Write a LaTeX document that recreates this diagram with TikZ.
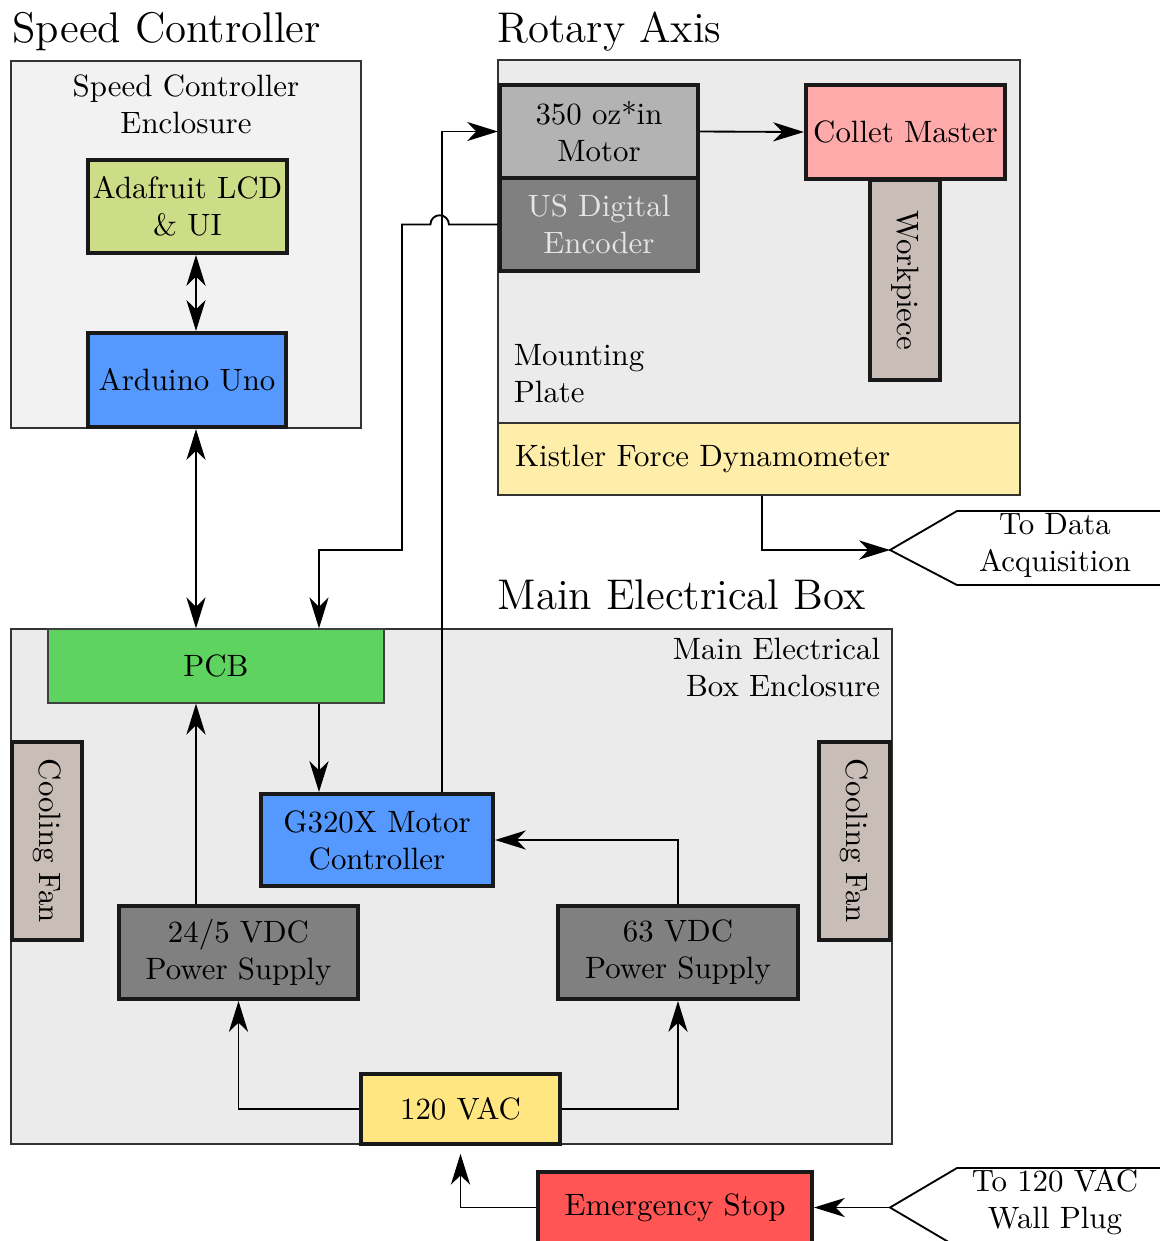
\documentclass[tikz,border=0pt]{standalone}
\usepackage{tikz}
\usetikzlibrary{arrows.meta}

\definecolor{lightencl}{HTML}{F2F2F2}
\definecolor{encl}{HTML}{EBEBEB}
\definecolor{lcdgreen}{HTML}{CDDC87}
\definecolor{ctrlblue}{HTML}{5599FF}
\definecolor{motorgray}{HTML}{B3B3B3}
\definecolor{psgray}{HTML}{808080}
\definecolor{colletpink}{HTML}{FFAAAA}
\definecolor{partbrown}{HTML}{C8BEB7}
\definecolor{kistleryellow}{HTML}{FFEEAA}
\definecolor{pcbgreen}{HTML}{5FD35F}
\definecolor{acyellow}{HTML}{FFE680}
\definecolor{stopred}{HTML}{FF5555}

\tikzset{
  enclosure/.style={draw=black!80, line width=0.6pt},
  part/.style={draw=black!90, line width=1.3pt, align=center, inner sep=1pt},
  title/.style={font=\fontsize{13.9}{16}\selectfont, inner sep=0pt, anchor=base west},
  wire/.style={line width=0.6pt},
}

\begin{document}
\begin{tikzpicture}[x=0.324pt, y=-0.324pt, >={Stealth[length=10pt,width=6.2pt,inset=3pt]}]
  \useasboundingbox (0,0) rectangle (1160,1241);

  % Enclosures
  \draw[enclosure, fill=lightencl] (11,61) rectangle (361,428);
  \draw[enclosure, fill=encl] (498,60) rectangle (1020,423);
  \draw[enclosure, fill=encl] (11,629) rectangle (892,1144);

  % Titles and labels
  \node[title] (sctitle) at (12,42) {Speed Controller};
  \node[title] (ratitle) at (497,42) {Rotary Axis};
  \node[title] (mbtitle) at (497,609) {Main Electrical Box};
  \node[align=center] (sclabel) at (186,104) {Speed Controller\\Enclosure};
  \node[align=left, anchor=west] (plate) at (503,374) {Mounting\\Plate};
  \node[align=right, anchor=north east] (mblabel) at (891,627) {Main Electrical\\Box Enclosure};

  % Speed controller
  \node[part, fill=lcdgreen, minimum width=64.5pt, minimum height=30.1pt] (lcd) at (187.5,206.5) {Adafruit LCD\\\& UI};
  \node[part, fill=ctrlblue, minimum width=64.2pt, minimum height=30.5pt] (ard) at (187,380) {Arduino Uno};

  % Rotary axis
  \node[part, fill=motorgray, minimum width=64.2pt, minimum height=30.1pt] (motor) at (599,131.5) {350 oz*in\\Motor};
  \node[part, fill=psgray, text=black!10, minimum width=64.2pt, minimum height=30.1pt] (enc) at (599,224.5) {US Digital\\Encoder};
  \node[part, fill=colletpink, minimum width=64.5pt, minimum height=30.5pt] (collet) at (905.5,132) {Collet Master};
  \node[part, fill=partbrown, rotate=-90, minimum width=64.8pt, minimum height=22.7pt] (work) at (905,280) {Workpiece};
  \node[enclosure, fill=kistleryellow, minimum height=23.3pt, text width=158pt, inner xsep=5.5pt, align=left] (kistler) at (759,459) {Kistler Force Dynamometer};

  % Main electrical box
  \node[draw=black!75, thin, fill=pcbgreen, minimum width=108.9pt, minimum height=24pt] (pcb) at (216,666) {PCB};
  \node[part, fill=partbrown, rotate=-90, minimum width=64.2pt, minimum height=22.7pt] (fanl) at (47,841) {Cooling Fan};
  \node[part, fill=partbrown, rotate=-90, minimum width=64.2pt, minimum height=22.7pt] (fanr) at (854.5,841) {Cooling Fan};
  \node[part, fill=ctrlblue, minimum width=75.2pt, minimum height=29.8pt] (g320) at (377,840) {G320X Motor\\Controller};
  \node[part, fill=psgray, minimum width=77.4pt, minimum height=30.1pt] (psa) at (238.5,952.5) {24/5 VDC\\Power Supply};
  \node[part, fill=psgray, minimum width=77.8pt, minimum height=30.1pt] (psb) at (678,952.5) {63 VDC\\Power Supply};
  \node[part, fill=acyellow, minimum width=64.5pt, minimum height=22.7pt] (ac) at (460.5,1109) {120 VAC};
  \node[part, fill=stopred, minimum width=88.8pt, minimum height=22.7pt] (estop) at (675,1207.5) {Emergency Stop};

  % Outside connections
  \coordinate (daq) at (890,550);
  \draw[wire, fill=white] (1170,511) -- (957,511) -- (daq) -- (957,585) -- (1170,585);
  \node[align=center] (daqlabel) at (1055,545) {To Data\\Acquisition};
  \coordinate (plug) at (890,1207.5);
  \draw[wire, fill=white] (1170,1168) -- (957,1168) -- (plug) -- (957,1247) -- (1170,1247);
  \node[align=center] (pluglabel) at (1055,1202) {To 120 VAC\\Wall Plug};

  % Wire runs
  \coordinate (xa) at (196,0);
  \coordinate (xe) at (319,0);
  \coordinate (xm) at (442,0);
  \coordinate (xk) at (762,0);
  \coordinate (encbend) at (402,550);

  \draw[wire, <->] (lcd.south -| xa) -- (ard.north -| xa);
  \draw[wire, <->] (ard.south -| xa) -- (pcb.north -| xa);
  \draw[wire, ->] (enc.west) -- ++(-49,0) arc[start angle=0, end angle=180, radius=3pt]
    -- (encbend |- enc.west) -- (encbend) -| (pcb.north -| xe);
  \draw[wire, ->] (motor.east) -- (collet.west);
  \draw[wire, ->] (kistler.south -| xk) |- (daq);
  \draw[wire, ->] (pcb.south -| xe) -- (g320.north -| xe);
  \draw[wire, ->] (g320.north -| xm) |- (motor.west);
  \draw[wire, ->] (psa.north -| xa) -- (pcb.south -| xa);
  \draw[wire, ->] (psb.north) |- (g320.east);
  \draw[wire, ->] (ac.west) -| (psa.south);
  \draw[wire, ->] (ac.east) -| (psb.south);
  \draw[wire, ->, shorten >=2.5pt] (estop.west) -| (ac.south);
  \draw[wire, ->] (plug) -- (estop.east);
\end{tikzpicture}
\end{document}
